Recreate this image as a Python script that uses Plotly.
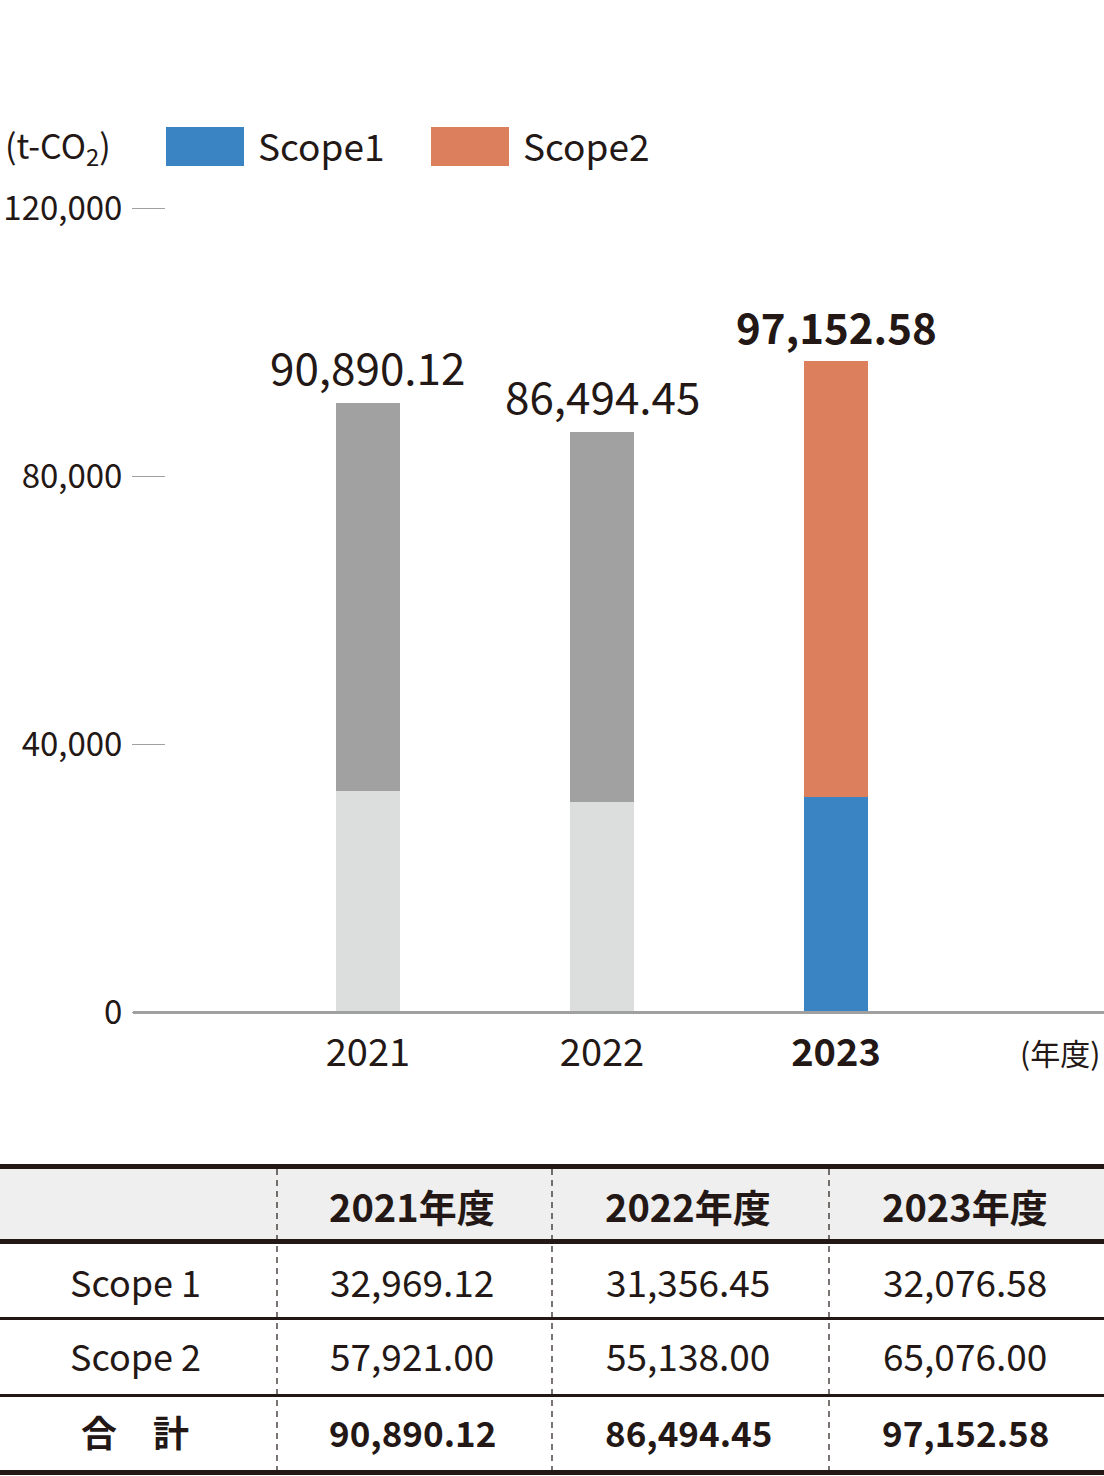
import plotly.graph_objects as go

# data
years = ["2021", "2022", "2023"]
scope1 = [32969.12, 31356.45, 32076.58]
scope2 = [57921.00, 55138.00, 65076.00]
totals = [90890.12, 86494.45, 97152.58]
row_labels = ["Scope 1", "Scope 2", "合　計"]
y_ticks = [0, 40000, 80000, 120000]

W, H = 1104, 1476
FONT = "Noto Sans CJK JP"
INK = "#231815"

# bar colours: older years in grey, latest year in colour
s1_colors = ["#dcdddd", "#dcdddd", "#3b84c4"]
s2_colors = ["#a0a1a0", "#a0a1a0", "#dc7f5c"]


def px(x):
    return x / W


def py(y):
    return (H - y) / H


fig = go.Figure()
fig.add_trace(go.Bar(x=list(range(len(years))), y=scope1, width=0.273,
                     marker=dict(color=s1_colors, line=dict(width=0)),
                     name="Scope1", hoverinfo="y"))
fig.add_trace(go.Bar(x=list(range(len(years))), y=scope2, width=0.273,
                     marker=dict(color=s2_colors, line=dict(width=0)),
                     name="Scope2", hoverinfo="y"))

annotations = []
shapes = []


def note(x, y, text, size, xanchor="center", bold=False):
    annotations.append(dict(x=x, y=y, xref="paper", yref="paper",
                            xanchor=xanchor, yanchor="middle", showarrow=False,
                            text=f"<b>{text}</b>" if bold else text,
                            font=dict(family=FONT, size=size, color=INK)))


# total labels on top of the bars
for i, t in enumerate(totals):
    last = i == len(totals) - 1
    txt = f"{t:,.2f}"
    annotations.append(dict(
        x=i, y=t, xref="x", yref="y", xanchor="center", yanchor="bottom", yshift=3,
        text=f"<b>{txt}</b>" if last else txt, showarrow=False,
        font=dict(family=FONT, size=42 if last else 44, color=INK)))

# baseline (paper ref so the thick line is not clipped by the plot area)
BASE = 1012
shapes.append(dict(type="line", xref="paper", yref="paper", x0=px(133), x1=1,
                   y0=py(BASE + 0.5), y1=py(BASE + 0.5), line=dict(color="#a0a0a0", width=3)))

# unit + legend
note(px(3), py(146), "(t-CO<sub>2</sub>)", 34, xanchor="left")
for name, col, x0 in [("Scope1", "#3b84c4", 166), ("Scope2", "#dc7f5c", 431)]:
    shapes.append(dict(type="rect", xref="paper", yref="paper",
                       x0=px(x0), x1=px(x0 + 78), y0=py(166), y1=py(127),
                       fillcolor=col, line=dict(width=0)))
    note(px(x0 + 90), py(145), name, 37, xanchor="left")

# year unit
note(px(1102), py(1052), "(年度)", 30, xanchor="right")

# ---- table ----
col_x = [277, 552, 829]
col_c = [135, 412, 688, 965]
row_c = [1281, 1355, 1431]
shapes.append(dict(type="rect", xref="paper", yref="paper", x0=0, x1=1,
                   y0=py(1241), y1=py(1168), fillcolor="#eeefee", line=dict(width=0), layer="below"))
for yy, w in [(1166.5, 5), (1241.5, 5), (1318.5, 3), (1395.5, 3), (1472.5, 5)]:
    shapes.append(dict(type="line", xref="paper", yref="paper", x0=0, x1=1,
                       y0=py(yy), y1=py(yy), line=dict(color=INK, width=w)))
for xx in col_x:
    shapes.append(dict(type="line", xref="paper", yref="paper", x0=px(xx), x1=px(xx),
                       y0=py(1169), y1=py(1470), line=dict(color=INK, width=1.2, dash="6px,5px")))

for j, yr in enumerate(years):
    note(px(col_c[j + 1]), py(1205), f"{yr}年度", 38, bold=True)
rows = [scope1, scope2, totals]
for r, (lab, vals) in enumerate(zip(row_labels, rows)):
    bold = r == 2
    note(px(col_c[0]), py(row_c[r]), lab, 36, bold=bold)
    for j, v in enumerate(vals):
        note(px(col_c[j + 1]), py(row_c[r]), f"{v:,.2f}", 35 if bold else 37, bold=bold)

fig.update_layout(
    width=W, height=H, barmode="stack", showlegend=False,
    margin=dict(l=0, r=0, t=0, b=0, pad=0),
    paper_bgcolor="white", plot_bgcolor="white",
    font=dict(family=FONT, color=INK),
    xaxis=dict(domain=[px(166), 1], range=[-0.863, 3.145], automargin=False,
               tickmode="array", tickvals=[0, 1, 2],
               ticktext=[years[0], years[1], f"<b>{years[2]}</b>"],
               ticks="", showgrid=False, zeroline=False, showline=False,
               ticklabelstandoff=15, tickfont=dict(family=FONT, size=38, color=INK)),
    yaxis=dict(domain=[py(BASE), py(208)], range=[0, 120000], automargin=False,
               tickmode="array", tickvals=y_ticks,
               ticktext=[f"{v:,}" for v in y_ticks],
               ticks="outside", ticklen=33, tickcolor="#a0a0a0", tickwidth=1.2,
               ticklabelstandoff=3,
               showgrid=False, zeroline=False, showline=False,
               tickfont=dict(family=FONT, size=33, color=INK)),
    annotations=annotations, shapes=shapes,
)

# drop the default 8px page margin so the figure fills the window
fig.write_html("out.html", config={"displayModeBar": False},
               post_script="document.body.style.margin='0';")
